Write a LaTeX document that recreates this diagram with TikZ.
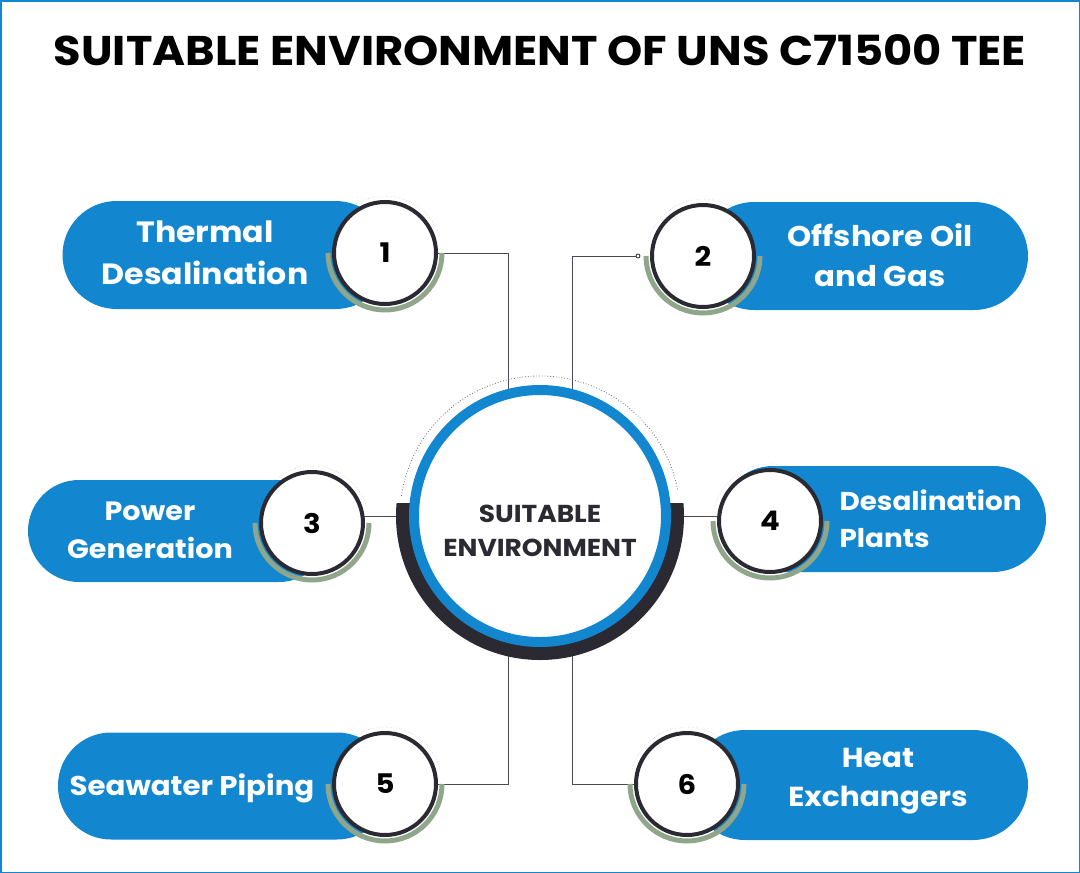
\documentclass[tikz,border=0pt]{standalone}
\usepackage{fontspec}
\setmainfont{Poppins}[FakeStretch=1.08]
\usetikzlibrary{positioning, backgrounds}

\definecolor{pillblue}{HTML}{1386D0}
\definecolor{ringdark}{HTML}{2B2A33}
\definecolor{sage}{HTML}{8FA68A}

\newcommand{\fsz}[1]{\bfseries\fontsize{#1}{1.42\dimexpr#1pt\relax}\selectfont}

\begin{document}
\begin{tikzpicture}[
    x=1pt, y=-1pt,
    title/.style={font=\bfseries\fontsize{41.5}{48}\selectfont}, % Heading
    pill/.style={fill=pillblue, rounded corners=#1, inner sep=0pt}, % Blue label bars
    pilltext/.style={text=white, align=center, font=\fsz{#1}},
    numdisc/.style={circle, draw=ringdark, line width=4pt, fill=white,
     minimum size=102pt, inner sep=0pt, font=\bfseries\fontsize{27}{30}\selectfont},
    hub/.style={circle, draw=pillblue, line width=10pt, fill=white, minimum size=252pt},
    hubtext/.style={align=center, text=ringdark, font=\bfseries\fontsize{24.5}{34}\selectfont},
    sagearc/.style={sage, line width=5pt}, % Shadow under each disc
    faintdots/.style={gray!40, dotted, line width=0.6pt},
    hubdots/.style={gray!80!black, dotted, line width=0.8pt},
    link/.style={ringdark!85, line width=0.9pt}, % Connectors
    tinydot/.style={circle, draw=ringdark, fill=white, inner sep=0pt, minimum size=4pt, line width=0.8pt}
]
    \useasboundingbox (0,0) rectangle (1080,873);

    % Frame and heading
    \draw[pillblue, line width=1.5pt] (0.75,0.75) rectangle (1079.25,872.25);
    \node[title] (head) at (540,50) {SUITABLE ENVIRONMENT OF UNS C71500 TEE};

    % Centres of the numbered discs and of the hub
    \coordinate (c1) at (385,253);
    \coordinate (c2) at (703,256);
    \coordinate (c3) at (312,523);
    \coordinate (c4) at (770,521);
    \coordinate (c5) at (385,784);
    \coordinate (c6) at (687,784);
    \coordinate (hc) at (540,516);

    % Faint dotted arcs above the discs
    \foreach \c in {c1,c2,c3,c4,c5,c6}
        \draw[faintdots] ([shift={(15:57pt)}]\c) arc (15:165:57pt);

    % Label bars
    \node[pill=54pt, minimum width=327pt, minimum height=108pt] (p1) at (226,255) {};
    \node[pill=54pt, minimum width=328pt, minimum height=108pt] (p2) at (864,256) {};
    \node[pill=51pt, minimum width=302pt, minimum height=102pt] (p3) at (179,531) {};
    \node[pill=53pt, minimum width=326pt, minimum height=106pt] (p4) at (883,519) {};
    \node[pill=53pt, minimum width=332pt, minimum height=107pt] (p5) at (224,786) {};
    \node[pill=55pt, minimum width=338pt, minimum height=110pt] (p6) at (859,785) {};

    \node[pilltext=29.3] (t1) at (205,253) {Thermal\\Desalination};
    \node[pilltext=28.5] (t2) at (880,255) {Offshore Oil\\and Gas};
    \node[pilltext=26.5] (t3) at (150,530) {Power\\Generation};
    \node[pilltext=25.8, align=left, anchor=west] (t4) at (836,519) {Desalination\\Plants};
    \node[pilltext=27.1] (t5) at (192,788) {Seawater Piping};
    \node[pilltext=27.5] (t6) at (878,781) {Heat\\Exchangers};

    % Sage shadows under the discs
    \foreach \c in {c1,c2,c3,c4,c5,c6}
        \draw[sagearc] ([shift={(180:57pt)}]\c) arc (180:360:57pt);

    % Numbered discs
    \node[numdisc] (n1) at (c1) {1};
    \node[numdisc] (n2) at (c2) {2};
    \node[numdisc] (n3) at (c3) {3};
    \node[numdisc] (n4) at (c4) {4};
    \node[numdisc] (n5) at (c5) {5};
    \node[numdisc] (n6) at (c6) {6};
    \node[tinydot] (d2) at ([xshift=-65pt]c2) {};

    % Dark band and dotted arc round the hub
    \begin{scope}
        \clip (380,503) rectangle (700,680);
        \fill[ringdark, even odd rule] (hc) circle (144pt) (hc) circle (130pt);
    \end{scope}
    \draw[hubdots] ([shift={(11:140pt)}]hc) arc (11:172:140pt);

    \node[hub] (hub) at (hc) {};
    \node[hubtext] (hublabel) at ([yshift=-15pt]hc) {SUITABLE\\ENVIRONMENT};

    % Connectors, kept behind everything
    \begin{pgfonlayer}{background}
        \draw[link] (n1) -| ([xshift=-32pt]hub.center);
        \draw[link] (d2) -| ([xshift=32pt]hub.center);
        \draw[link] (hub.west -| n3) -- (hub);
        \draw[link] (hub) -- (hub.east -| n4);
        \draw[link] ([xshift=-32pt]hub.center) |- (n5);
        \draw[link] ([xshift=32pt]hub.center) |- (n6);
    \end{pgfonlayer}

\end{tikzpicture}
\end{document}
